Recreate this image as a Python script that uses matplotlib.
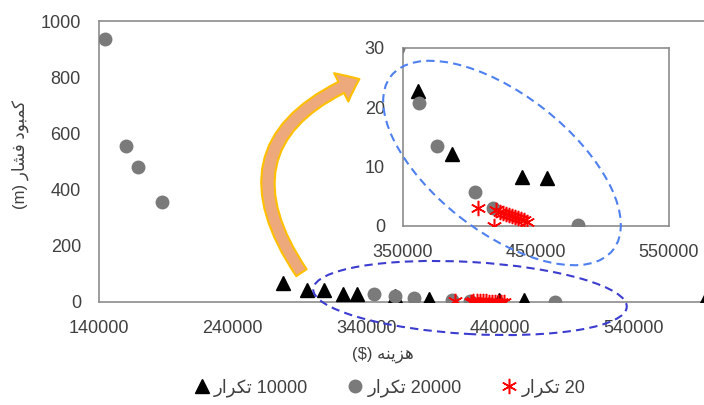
import matplotlib
matplotlib.use("Agg")
import matplotlib.pyplot as plt
from matplotlib.patches import Ellipse, FancyArrowPatch

plt.rcParams['font.family'] = ['Liberation Sans', 'DejaVu Sans']

# series (cost $, pressure deficit m)
tri_x = [277600, 295700, 308800, 322700, 333000, 361300, 386800, 439500, 458000, 593000]
tri_y = [68, 42, 42, 28, 28, 22.8, 12.1, 8.3, 8.1, 1]
circ_x = [144500, 160000, 169000, 187000, 346000, 362000, 375600, 404000, 417700, 481600]
circ_y = [935, 555, 480, 355, 30, 20.7, 13.5, 5.8, 3.0, 0.2]
star_x = [406400, 418400, 420000, 423000, 425200, 427500, 429700, 432000, 434200,
          436500, 438700, 441000, 443200]
star_y = [3.0, 0.0, 2.7, 2.4, 2.2, 2.0, 1.9, 1.7, 1.5, 1.3, 1.2, 1.0, 0.7]

main_xticks = [140000, 240000, 340000, 440000, 540000]
main_yticks = [0, 200, 400, 600, 800, 1000]
inset_xticks = [350000, 450000, 550000]
inset_yticks = [0, 10, 20, 30]

# pre-shaped persian text (visual order)
w_takrar = "\uFEAD\uFE8D\uFEAE\uFB91\uFE97"
w_hazine = "\uFEEA\uFEE8\uFEF3\uFEB0\uFEEB"
w_feshar = "\uFEAD\uFE8E\uFEB8\uFED3"
w_kambud = "\uFEA9\uFEEE\uFE92\uFEE4\uFB90"
labels = [w_takrar + " 10000", w_takrar + " 20000", w_takrar + " 20"]

txt = '#404040'
spine = '#8c8c8c'
gray = '#7a7a7a'

fig = plt.figure(figsize=(7.04, 4.05), dpi=100)


def draw(ax):
    ax.plot(tri_x, tri_y, ls='none', marker='^', ms=10, color='black', zorder=3)
    ax.plot(circ_x, circ_y, ls='none', marker='o', ms=9, color=gray, zorder=4)
    ax.plot(star_x, star_y, ls='none', marker=(6, 2, 0), ms=11, color='red',
            mew=1.1, zorder=5)


ax = fig.add_axes([99 / 704, 1 - 302 / 405, 1 - 99 / 704, 281 / 405])
draw(ax)
ax.set_xlim(140000, 593000)
ax.set_ylim(0, 1000)
ax.set_xticks(main_xticks)
ax.set_yticks(main_yticks)
ax.spines['right'].set_visible(False)
for s in ['left', 'bottom', 'top']:
    ax.spines[s].set_color(spine)
    ax.spines[s].set_linewidth(1.2)
ax.tick_params(length=0, labelsize=13, labelcolor=txt, pad=13)

ins = fig.add_axes([403 / 704, 1 - 226 / 405, 266 / 704, 178 / 405])
draw(ins)
ins.set_xlim(350000, 550000)
ins.set_ylim(0, 30)
ins.set_xticks(inset_xticks)
ins.set_yticks(inset_yticks)
for s in ins.spines.values():
    s.set_color(spine)
    s.set_linewidth(1.2)
ins.tick_params(length=0, labelsize=13, labelcolor=txt, pad=13)

fig.text(20 / 704, 1 - 155 / 405, "(m) " + w_feshar + " " + w_kambud,
         rotation=90, ha='center', va='center', fontsize=12, color=txt)
fig.text(383 / 704, 1 - 355 / 405, "($) " + w_hazine,
         ha='center', va='center', fontsize=12, color=txt)

# dashed highlight ellipses
fig.add_artist(Ellipse((4.70, 1.07), 3.14, 0.72, angle=-3.3,
                       transform=fig.dpi_scale_trans, fill=False,
                       ec='#3c3cd0', lw=1.5, ls=(0, (4, 2.5))))
fig.add_artist(Ellipse((5.02, 2.42), 2.82, 1.37, angle=-38,
                       transform=fig.dpi_scale_trans, fill=False,
                       ec='#4f80f0', lw=1.5, ls=(0, (4, 2.5))))

# curved arrow pointing to the inset
arr = FancyArrowPatch((3.03, 1.30), (3.62, 3.27), transform=fig.dpi_scale_trans,
                      connectionstyle="arc3,rad=-0.62",
                      arrowstyle="simple,head_length=1.2,head_width=1.9,tail_width=0.75",
                      mutation_scale=12, fc='#eda97c', ec='#ffc000', lw=1.5)
fig.add_artist(arr)

handles = ax.get_lines()
fig.legend(handles, labels, loc='center', bbox_to_anchor=(390 / 704, 1 - 388 / 405),
           ncol=3, frameon=False, fontsize=13, handlelength=0.8, handletextpad=0.3,
           columnspacing=2.2, labelcolor=txt)

fig.savefig("out.png", dpi=100)
